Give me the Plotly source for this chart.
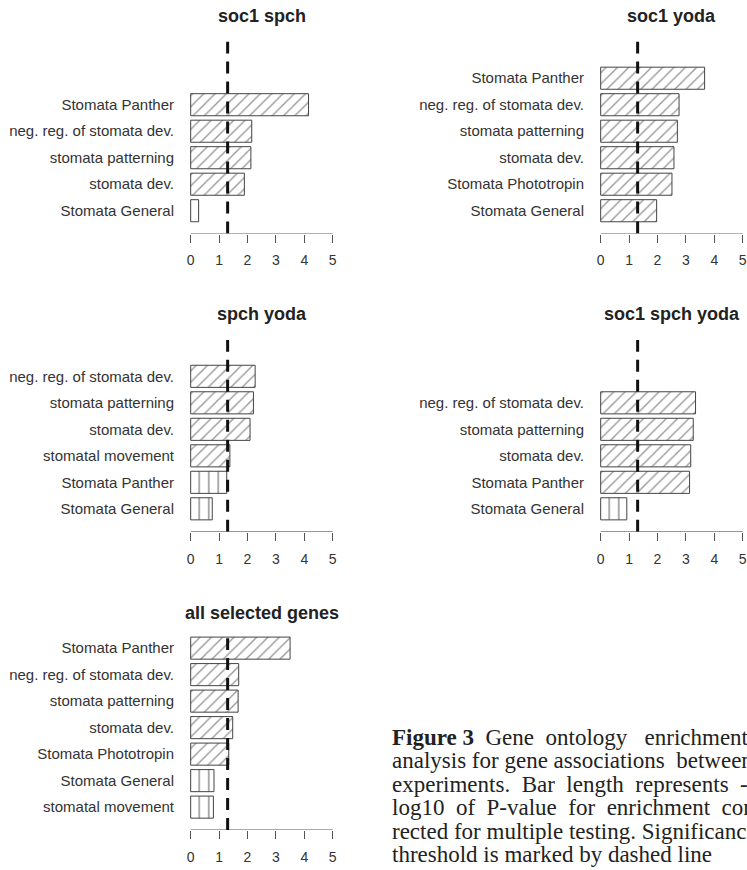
import plotly.graph_objects as go

W, H = 747, 870
THRESHOLD = 1.301  # -log10(0.05)

# ---- data (top -> bottom as shown) ----
soc1_spch_terms = ["Stomata Panther", "neg. reg. of stomata dev.", "stomata patterning", "stomata dev.", "Stomata General"]
soc1_spch_vals = [4.15, 2.15, 2.12, 1.89, 0.28]

soc1_yoda_terms = ["Stomata Panther", "neg. reg. of stomata dev.", "stomata patterning", "stomata dev.", "Stomata Phototropin", "Stomata General"]
soc1_yoda_vals = [3.66, 2.76, 2.70, 2.58, 2.51, 1.97]

spch_yoda_terms = ["neg. reg. of stomata dev.", "stomata patterning", "stomata dev.", "stomatal movement", "Stomata Panther", "Stomata General"]
spch_yoda_vals = [2.27, 2.21, 2.09, 1.38, 1.27, 0.76]

soc1_spch_yoda_terms = ["neg. reg. of stomata dev.", "stomata patterning", "stomata dev.", "Stomata Panther", "Stomata General"]
soc1_spch_yoda_vals = [3.34, 3.26, 3.17, 3.13, 0.92]

all_terms = ["Stomata Panther", "neg. reg. of stomata dev.", "stomata patterning", "stomata dev.", "Stomata Phototropin", "Stomata General", "stomatal movement"]
all_vals = [3.50, 1.69, 1.67, 1.48, 1.34, 0.82, 0.80]

x_ticks = [0, 1, 2, 3, 4, 5]

NB = "\u00a0"
caption_lines = [
    f"<b>Figure{NB}3</b>{NB} Gene{NB} ontology{NB}{NB} enrichment",
    f"analysis for gene associations{NB} between",
    f"experiments.{NB} Bar{NB} length{NB} represents{NB} -",
    f"log10{NB} of{NB} P-value{NB} for{NB} enrichment{NB} cor-",
    "rected for multiple testing. Significance",
    "threshold is marked by dashed line",
]

panels = [
    ("soc1 spch", soc1_spch_terms, soc1_spch_vals),
    ("soc1 yoda", soc1_yoda_terms, soc1_yoda_vals),
    ("spch yoda", spch_yoda_terms, spch_yoda_vals),
    ("soc1 spch yoda", soc1_spch_yoda_terms, soc1_spch_yoda_vals),
    ("all selected genes", all_terms, all_vals),
]

# ---- layout geometry (pixels) ----
PX_PER_X = 28.4
XR = [-0.2, 5.1]
YR = [-0.336, 8.736]
PX_PER_Y = 26.5 / 1.2
col_left = [185.0, 595.0]
row_axis = [233.6, 531.7, 830.0]
panel_pos = [(0, 0), (1, 0), (0, 1), (1, 1), (0, 2)]
title_gap = 17.0

fig = go.Figure()
layout = dict(
    width=W, height=H, margin=dict(l=0, r=0, t=0, b=0),
    paper_bgcolor="white", plot_bgcolor="white", showlegend=False,
    font=dict(family="Liberation Sans, Arial, sans-serif", color="#333"),
)
annotations = []
shapes = []

dom_w = (XR[1] - XR[0]) * PX_PER_X
dom_h = (YR[1] - YR[0]) * PX_PER_Y

for k, (title, terms, vals) in enumerate(panels):
    n = k + 1
    xa = "x" if n == 1 else f"x{n}"
    ya = "y" if n == 1 else f"y{n}"
    c, r = panel_pos[k]
    x0 = col_left[c]
    yb = row_axis[r]
    ytop = yb - dom_h
    m = len(terms)
    centers = [0.7 + 1.2 * (m - 1 - i) for i in range(m)]
    shapes_pat = ["/" if v > THRESHOLD else "|" for v in vals]
    sizes = [8 if s == "/" else 9.5 for s in shapes_pat]
    fig.add_trace(go.Bar(
        x=vals, y=centers, orientation="h", width=1.0,
        xaxis=xa, yaxis=ya,
        marker=dict(color="white", line=dict(color="#444", width=1),
                    pattern=dict(shape=shapes_pat, size=sizes, solidity=0.17,
                                 fgcolor="#333", bgcolor="white", fillmode="overlay")),
        hoverinfo="skip",
    ))
    layout[f"xaxis{'' if n == 1 else n}"] = dict(
        domain=[x0 / W, (x0 + dom_w) / W], range=XR, anchor=ya,
        showgrid=False, zeroline=False, showline=False,
        tickvals=x_ticks, ticks="outside", ticklen=8, tickcolor="#555", tickwidth=1,
        tickfont=dict(size=14, color="#333"), ticklabelstandoff=6,
    )
    layout[f"yaxis{'' if n == 1 else n}"] = dict(
        domain=[1 - yb / H, 1 - ytop / H], range=YR, anchor=xa,
        showgrid=False, zeroline=False, showline=False,
        tickvals=centers, ticktext=terms, ticks="",
        tickfont=dict(size=15, color="#333"), ticklabelstandoff=10,
    )
    # axis line from 0 to 5
    shapes.append(dict(type="line", xref=xa, yref=ya, x0=x_ticks[0], x1=x_ticks[-1],
                       y0=YR[0], y1=YR[0], line=dict(color="#555", width=1)))
    # significance threshold
    shapes.append(dict(type="line", xref=xa, yref=ya, x0=THRESHOLD, x1=THRESHOLD,
                       y0=YR[0], y1=8.35, line=dict(color="#111", width=3, dash="12px,8px"), layer="above"))
    annotations.append(dict(text=f"<b>{title}</b>", xref=xa, yref="paper", x=2.5,
                            y=1 - (ytop - title_gap) / H, xanchor="center", yanchor="middle",
                            showarrow=False, font=dict(size=18, color="#222")))

cap_x = 390
cap_y0 = 737
cap_dy = 23.5
for i, line in enumerate(caption_lines):
    annotations.append(dict(text=line, xref="paper", yref="paper", x=cap_x / W,
                            y=1 - (cap_y0 + i * cap_dy) / H, xanchor="left", yanchor="middle",
                            showarrow=False,
                            font=dict(family="Liberation Serif, Times New Roman, serif", size=23, color="#222")))

layout["annotations"] = annotations
layout["shapes"] = shapes
fig.update_layout(**layout)
fig.write_html("out.html", config={"displayModeBar": False, "staticPlot": True},
               post_script="document.body.style.margin='0';document.body.style.overflow='hidden';")
